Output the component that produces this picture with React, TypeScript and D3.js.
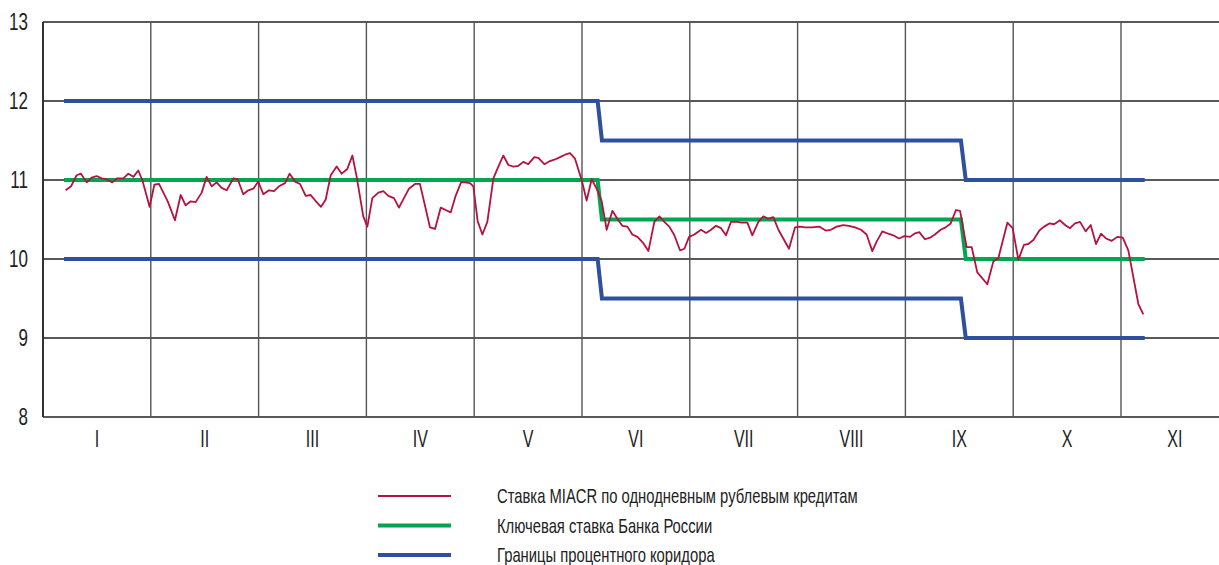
import React from 'react'
import * as d3 from 'd3'

const WIDTH = 1219
const HEIGHT = 565
const MARGIN = { top: 22, left: 43, bottom: 417 }

const months = ['I', 'II', 'III', 'IV', 'V', 'VI', 'VII', 'VIII', 'IX', 'X', 'XI']
const yTicks = [8, 9, 10, 11, 12, 13]

// x is measured in months from the start of the year
const miacrPos = [
  0.21, 0.26, 0.312, 0.352, 0.405, 0.451, 0.498, 0.544, 0.591, 0.643, 0.683, 0.745, 0.792, 0.838, 0.884, 0.921,
  0.989, 1.033, 1.076, 1.157, 1.224, 1.277, 1.323, 1.37, 1.416, 1.472, 1.518, 1.565, 1.611, 1.657, 1.704, 1.766,
  1.806, 1.858, 1.905, 1.951, 1.997, 2.044, 2.096, 2.143, 2.189, 2.245, 2.288, 2.338, 2.384, 2.437, 2.483, 2.532,
  2.579, 2.622, 2.669, 2.724, 2.771, 2.823, 2.87, 2.91, 2.971, 3.009, 3.055, 3.111, 3.157, 3.203, 3.256, 3.302,
  3.352, 3.395, 3.451, 3.497, 3.59, 3.637, 3.689, 3.735, 3.782, 3.828, 3.878, 3.915, 3.961, 3.992, 4.032, 4.076,
  4.122, 4.178, 4.218, 4.27, 4.317, 4.363, 4.41, 4.456, 4.502, 4.558, 4.595, 4.651, 4.703, 4.75, 4.796, 4.843,
  4.889, 4.935, 4.997, 5.043, 5.09, 5.136, 5.183, 5.229, 5.282, 5.328, 5.374, 5.421, 5.467, 5.514, 5.569, 5.616,
  5.671, 5.718, 5.764, 5.81, 5.857, 5.909, 5.95, 5.993, 6.042, 6.104, 6.151, 6.197, 6.243, 6.29, 6.336, 6.382,
  6.435, 6.481, 6.534, 6.58, 6.636, 6.682, 6.729, 6.775, 6.822, 6.92, 6.976, 7.022, 7.068, 7.13, 7.201, 7.26,
  7.309, 7.362, 7.424, 7.476, 7.532, 7.588, 7.64, 7.693, 7.733, 7.786, 7.841, 7.888, 7.94, 7.99, 8.042, 8.083,
  8.129, 8.181, 8.228, 8.274, 8.327, 8.373, 8.42, 8.469, 8.507, 8.568, 8.615, 8.667, 8.76, 8.816, 8.862, 8.946,
  8.995, 9.048, 9.1, 9.14, 9.187, 9.243, 9.286, 9.335, 9.379, 9.434, 9.481, 9.527, 9.573, 9.62, 9.672, 9.719,
  9.768, 9.815, 9.861, 9.914, 9.966, 10.016, 10.068, 10.161, 10.207,
]
const miacrVal = [
  10.87, 10.92, 11.06, 11.08, 10.97, 11.03, 11.05, 11.02, 11.01, 10.97, 11.02, 11.02, 11.08, 11.04, 11.12, 11.0,
  10.66, 10.94, 10.95, 10.73, 10.49, 10.81, 10.68, 10.73, 10.72, 10.84, 11.04, 10.92, 10.97, 10.9, 10.87, 11.02,
  11.01, 10.82, 10.87, 10.89, 10.98, 10.82, 10.87, 10.86, 10.92, 10.96, 11.08, 10.98, 10.95, 10.8, 10.81, 10.73,
  10.66, 10.75, 11.06, 11.17, 11.08, 11.14, 11.31, 11.04, 10.54, 10.41, 10.77, 10.84, 10.86, 10.8, 10.77, 10.65,
  10.78, 10.89, 10.95, 10.95, 10.4, 10.38, 10.65, 10.62, 10.59, 10.8, 10.97, 10.97, 10.96, 10.92, 10.48, 10.31,
  10.47, 11.02, 11.15, 11.31, 11.19, 11.17, 11.18, 11.23, 11.2, 11.29, 11.28, 11.2, 11.24, 11.26, 11.29, 11.32,
  11.34, 11.27, 11.0, 10.74, 11.01, 10.89, 10.73, 10.37, 10.61, 10.51, 10.42, 10.41, 10.31, 10.28, 10.2, 10.1,
  10.47, 10.54, 10.47, 10.41, 10.3, 10.11, 10.13, 10.28, 10.31, 10.37, 10.33, 10.37, 10.42, 10.39, 10.3, 10.47,
  10.47, 10.46, 10.46, 10.3, 10.47, 10.54, 10.51, 10.53, 10.37, 10.13, 10.4, 10.41, 10.4, 10.4, 10.41, 10.36,
  10.37, 10.41, 10.43, 10.42, 10.4, 10.37, 10.31, 10.1, 10.22, 10.35, 10.32, 10.3, 10.26, 10.29, 10.28, 10.32,
  10.34, 10.25, 10.27, 10.31, 10.37, 10.4, 10.45, 10.62, 10.61, 10.15, 10.15, 9.83, 9.68, 9.97, 10.01, 10.46,
  10.39, 9.99, 10.18, 10.19, 10.24, 10.36, 10.41, 10.45, 10.44, 10.49, 10.43, 10.39, 10.45, 10.47, 10.35, 10.43,
  10.19, 10.32, 10.26, 10.23, 10.28, 10.27, 10.11, 9.43, 9.3,
]

// rate periods: start / end (months) and values
const periodStart = [0.195, 5.185, 8.56]
const periodEnd = [5.145, 8.515, 10.22]
const keyRate = [11, 10.5, 10]
const corridorUpper = [12, 11.5, 11]
const corridorLower = [10, 9.5, 9]

const legendLabels = [
  'Ставка MIACR по однодневным рублевым кредитам',
  'Ключевая ставка Банка России',
  'Границы процентного коридора',
]

const RED = '#b5123d'
const GREEN = '#00a651'
const BLUE = '#2f4f9f'
const FONT = '"Liberation Sans", Arial, sans-serif'
const NARROW = 0.74

export default function App() {
  const x = d3.scaleLinear().domain([0, 10]).range([MARGIN.left, 1121])
  const y = d3.scaleLinear().domain([8, 13]).range([MARGIN.bottom, MARGIN.top])

  const line = d3
    .line<[number, number]>()
    .x((d) => x(d[0]))
    .y((d) => y(d[1]))

  const miacr: [number, number][] = miacrPos.map((p, i) => [p, miacrVal[i]])
  const steps = (vals: number[]) => {
    const pts: [number, number][] = []
    vals.forEach((v, i) => {
      pts.push([periodStart[i], v])
      pts.push([periodEnd[i], v])
    })
    return pts
  }

  const legendColors = [RED, GREEN, BLUE]
  const legendWidths = [2, 4, 4]

  return (
    <svg
      width={WIDTH}
      height={HEIGHT}
      style={{ position: 'absolute', left: 0, top: 0, background: '#fff' }}
    >
      {/* horizontal grid */}
      {yTicks.map((t) => (
        <line key={t} x1={MARGIN.left} x2={WIDTH} y1={y(t)} y2={y(t)} stroke="#222" strokeWidth={1.3} />
      ))}
      {/* vertical grid */}
      {d3.range(1, 11).map((m) => (
        <line key={m} x1={x(m)} x2={x(m)} y1={MARGIN.top} y2={MARGIN.bottom} stroke="#555" strokeWidth={1.4} />
      ))}
      <line x1={MARGIN.left} x2={MARGIN.left} y1={MARGIN.top} y2={MARGIN.bottom} stroke="#333" strokeWidth={2} />

      {/* y labels */}
      {yTicks.map((t) => (
        <text
          key={t}
          transform={`translate(28,${y(t)}) scale(${NARROW},1)`}
          dy="0.36em"
          textAnchor="end"
          fontFamily={FONT}
          fontSize={23}
          fill="#222"
        >
          {t}
        </text>
      ))}
      {/* month labels */}
      {months.map((m, i) => (
        <text
          key={m}
          transform={`translate(${x(i + 0.5)},447) scale(${NARROW * 0.9},1)`}
          textAnchor="middle"
          fontFamily={FONT}
          fontSize={24}
          fill="#222"
        >
          {m}
        </text>
      ))}

      <path d={line(steps(corridorUpper)) || ''} fill="none" stroke={BLUE} strokeWidth={4} />
      <path d={line(steps(corridorLower)) || ''} fill="none" stroke={BLUE} strokeWidth={4} />
      <path d={line(steps(keyRate)) || ''} fill="none" stroke={GREEN} strokeWidth={4} />
      <path d={line(miacr) || ''} fill="none" stroke={RED} strokeWidth={1.8} strokeLinejoin="round" />

      {/* legend */}
      {legendLabels.map((l, i) => (
        <g key={l} transform={`translate(0,${496 + i * 29.5})`}>
          <line x1={378} x2={451} y1={0} y2={0} stroke={legendColors[i]} strokeWidth={legendWidths[i]} />
          <text
            transform={`translate(497,0) scale(${NARROW},1)`}
            dy="0.36em"
            fontFamily={FONT}
            fontSize={20}
            fill="#222"
          >
            {l}
          </text>
        </g>
      ))}
    </svg>
  )
}
